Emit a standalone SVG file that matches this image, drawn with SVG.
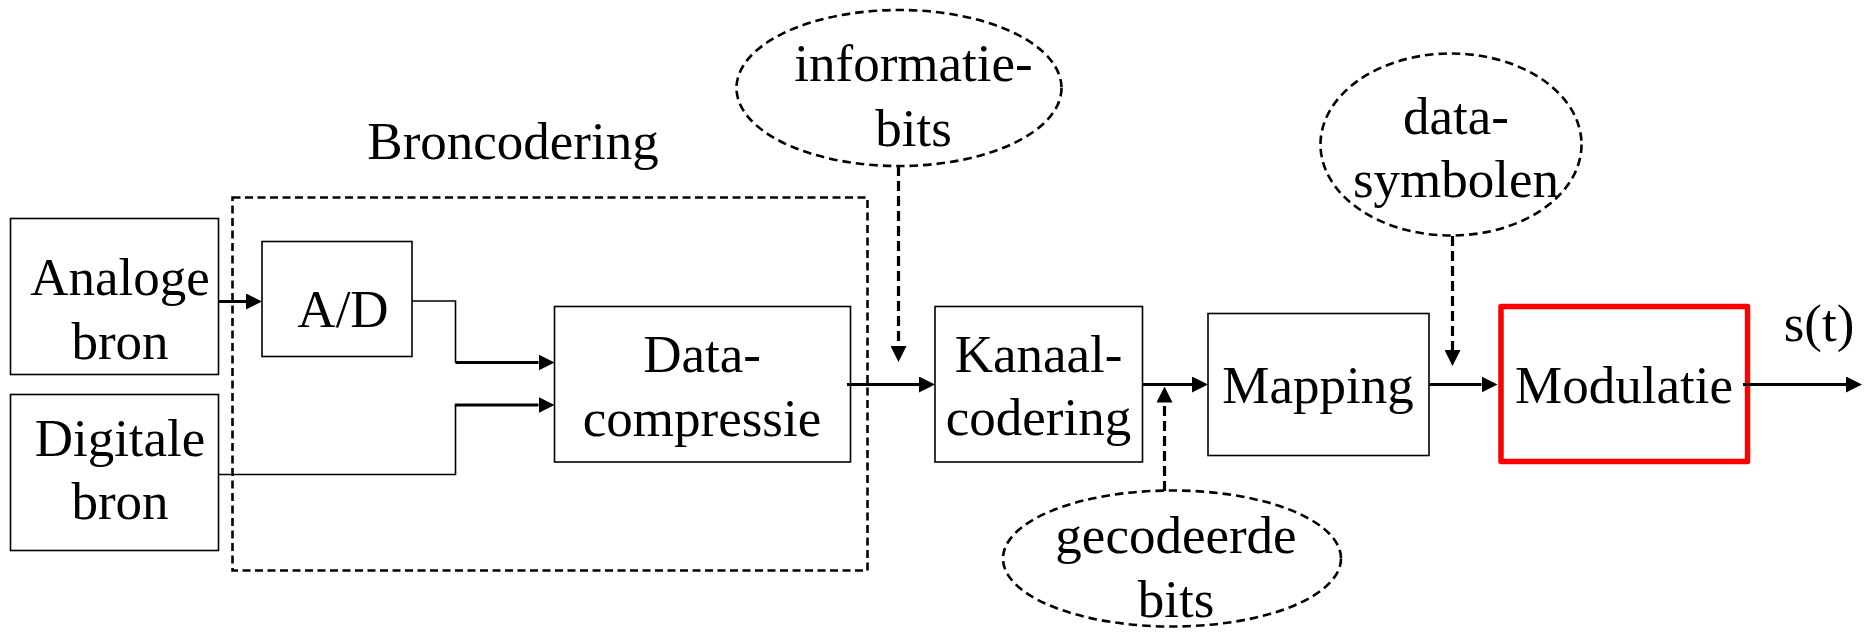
<svg xmlns="http://www.w3.org/2000/svg" width="1873" height="636" viewBox="0 0 1873 636">
  <style>
    text { font-family: "Liberation Serif", "Times New Roman", serif; font-size: 53px; fill: #000; text-anchor: middle; }
    .box { fill: #fff; stroke: #000; stroke-width: 1.6; }
    .group { fill: none; stroke: #000; stroke-width: 2.6; stroke-dasharray: 8 4.5; }
    .bubble { fill: none; stroke: #000; stroke-width: 2.6; stroke-dasharray: 8.5 5; }
    .hot { fill: #fff; stroke: #ff0000; stroke-width: 5.5; stroke-linejoin: round; }
    .thin { fill: none; stroke: #000; stroke-width: 1.6; }
    .flow { fill: none; stroke: #000; stroke-width: 3; }
    .hint { fill: none; stroke: #000; stroke-width: 3.2; stroke-dasharray: 10 5; }
  </style>
  <defs>
    <marker id="head" viewBox="0 0 16 16" refX="0" refY="8" markerWidth="16" markerHeight="16" markerUnits="userSpaceOnUse" orient="auto">
      <path d="M0,0 L16,8 L0,16 z" fill="#000"/>
    </marker>
  </defs>

  <rect width="1873" height="636" fill="#fff"/>

  <!-- source-coding block -->
  <g id="broncodering">
    <rect class="group" x="232.5" y="197.5" width="635" height="373"/>
    <text x="513" y="159">Broncodering</text>
  </g>

  <g id="analoge-bron">
    <rect class="box" x="10.5" y="218.5" width="208" height="156"/>
    <text x="120" y="295">Analoge</text>
    <text x="120" y="359">bron</text>
  </g>

  <g id="digitale-bron">
    <rect class="box" x="10.5" y="394.5" width="208" height="156"/>
    <text x="120" y="456">Digitale</text>
    <text x="120" y="519">bron</text>
  </g>

  <g id="ad">
    <rect class="box" x="262" y="241.5" width="150" height="115"/>
    <text x="343" y="327">A/D</text>
  </g>

  <g id="datacompressie">
    <rect class="box" x="554.5" y="306.5" width="296" height="155.5"/>
    <text x="702" y="372">Data-</text>
    <text x="702" y="436">compressie</text>
  </g>

  <g id="kanaalcodering">
    <rect class="box" x="935" y="306.5" width="207.5" height="155.5"/>
    <text x="1038.5" y="372">Kanaal-</text>
    <text x="1038.5" y="435">codering</text>
  </g>

  <g id="mapping">
    <rect class="box" x="1208" y="313.5" width="221" height="142"/>
    <text x="1318" y="403">Mapping</text>
  </g>

  <g id="modulatie">
    <rect class="hot" x="1501" y="306.5" width="246.5" height="155"/>
    <text x="1624" y="403">Modulatie</text>
  </g>

  <g id="signaal">
    <text x="1819" y="341">s(t)</text>
  </g>

  <!-- annotation bubbles -->
  <g id="informatiebits">
    <ellipse class="bubble" cx="899" cy="88" rx="162.5" ry="78"/>
    <text x="913.5" y="81">informatie-</text>
    <text x="913.5" y="146">bits</text>
  </g>

  <g id="datasymbolen">
    <ellipse class="bubble" cx="1451" cy="144.5" rx="130.5" ry="91"/>
    <text x="1456" y="134">data-</text>
    <text x="1456" y="197">symbolen</text>
  </g>

  <g id="gecodeerdebits">
    <ellipse class="bubble" cx="1172" cy="558.5" rx="169" ry="68"/>
    <text x="1176" y="553">gecodeerde</text>
    <text x="1176" y="617">bits</text>
  </g>

  <!-- connectors -->
  <g id="connectors">
    <path class="flow" d="M218,301.5 H246" marker-end="url(#head)"/>

    <path class="thin" d="M412,301 H455.5 V362.5"/>
    <path class="flow" d="M455.5,362.5 H538.5" marker-end="url(#head)"/>

    <path class="thin" d="M218.5,474.5 H455.5 V405"/>
    <path class="flow" d="M454.8,405 H538.5" marker-end="url(#head)"/>

    <path class="flow" d="M847,384.5 H919" marker-end="url(#head)"/>
    <path class="flow" d="M1142.5,384.5 H1192" marker-end="url(#head)"/>
    <path class="flow" d="M1429,384.5 H1481.5" marker-end="url(#head)"/>
    <path class="flow" d="M1743,384.5 H1846" marker-end="url(#head)"/>

    <path class="hint" d="M898.5,166 V346" marker-end="url(#head)"/>
    <path class="hint" d="M1452.5,236 V350" marker-end="url(#head)"/>
    <path class="hint" d="M1164.5,491 V402.5" marker-end="url(#head)"/>
  </g>
</svg>
